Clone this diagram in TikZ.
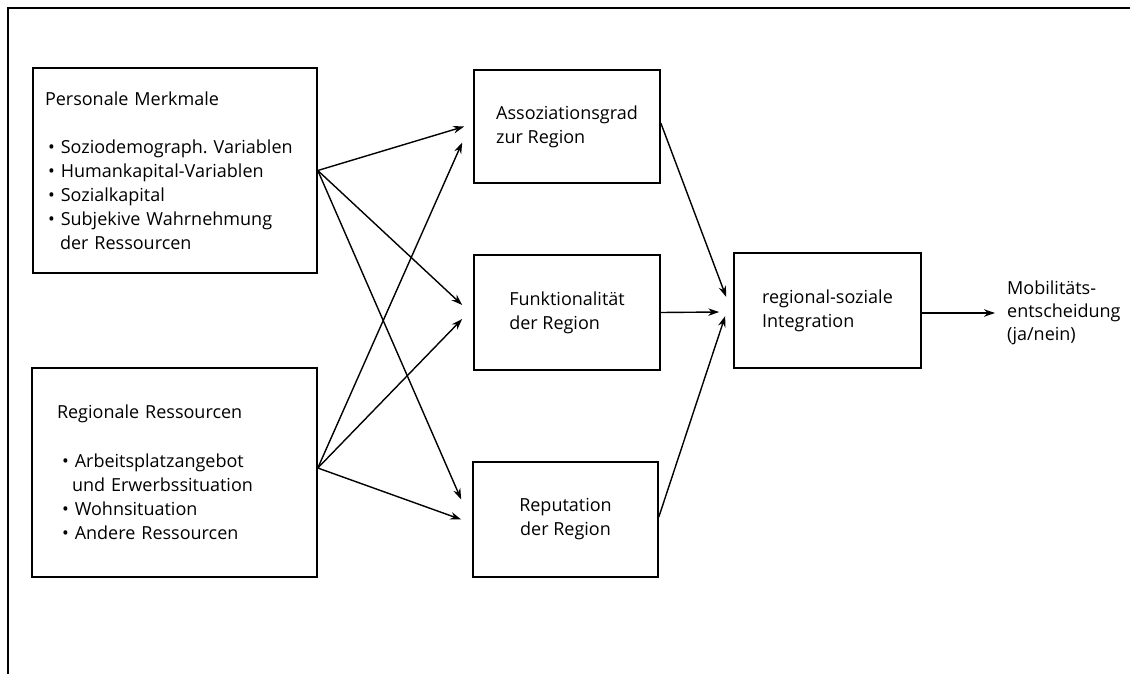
\documentclass[tikz,border=0pt]{standalone}
\usepackage{fontspec}
\setmainfont{Open Sans}
\usetikzlibrary{arrows.meta}
\begin{document}
\frenchspacing
\begin{tikzpicture}[x=1pt,y=-1pt,
  box/.style={draw, line width=1.6pt, inner sep=0pt, font=\fontsize{18}{24}\selectfont},
  conn/.style={line width=1.4pt, -{Stealth[length=11pt,width=7.5pt]}},
  frameline/.style={line width=1.6pt}]
\useasboundingbox (0,0) rectangle (1130,674);
\coordinate (ftop) at (8,8);
\coordinate (fright) at (1130,8);
\coordinate (fbot) at (8,674);
\draw[frameline] (fright) -- (ftop) -- (fbot);

\node[box, minimum width=284pt, minimum height=205pt, text width=260pt, align=left] (pm) at (175,170.5)
  {Personale Merkmale\\[24pt]
   \hspace*{3pt}\textbullet\ Soziodemograph. Variablen\\
   \hspace*{3pt}\textbullet\ Humankapital-Variablen\\
   \hspace*{3pt}\textbullet\ Sozialkapital\\
   \hspace*{3pt}\textbullet\ Subjekive Wahrnehmung\\
   \hspace*{15pt}der Ressourcen};

\node[box, minimum width=285pt, minimum height=209pt, text width=235pt, align=left] (rr) at (174.5,472.5)
  {Regionale Ressourcen\\[25pt]
   \hspace*{5pt}\textbullet\ Arbeitsplatzangebot\\
   \hspace*{15pt}und Erwerbssituation\\
   \hspace*{5pt}\textbullet\ Wohnsituation\\
   \hspace*{5pt}\textbullet\ Andere Ressourcen};

\node[box, minimum width=186pt, minimum height=113pt, align=left] (as) at (567,126.5)
  {Assoziationsgrad\\zur Region};
\node[box, minimum width=186pt, minimum height=115pt, align=left] (fu) at (567,312.5)
  {Funktionalität\\der Region};
\node[box, minimum width=185pt, minimum height=115pt, align=center] (re) at (565.5,519.5)
  {Reputation\\der Region};
\node[box, minimum width=187pt, minimum height=115pt, align=left] (in) at (827.5,310.5)
  {regional-soziale\\Integration};
\node[font=\fontsize{18}{23}\selectfont, align=left, anchor=west, inner sep=0pt] (mo) at (1007,313)
  {Mobilitäts-\\entscheidung\\(ja/nein)};

% from Personale Merkmale
\draw[conn] (pm.east) -- ([xshift=-9pt]as.west);
\draw[conn] (pm.east) -- ([xshift=-11pt,yshift=7.5pt]fu.west);
\draw[conn] (pm.east) -- ([xshift=-11pt,yshift=20pt]re.west);
% from Regionale Ressourcen
\draw[conn] ([yshift=4.5pt]rr.east) -- ([xshift=-11pt,yshift=-16pt]as.west);
\draw[conn] ([yshift=4.5pt]rr.east) -- ([xshift=-11pt,yshift=-6.5pt]fu.west);
\draw[conn] ([yshift=4.5pt]rr.east) -- ([xshift=-11pt]re.west);
% to integration
\draw[conn] ([yshift=3.5pt]as.east) -- ([xshift=-7pt,yshift=13.5pt]in.west);
\draw[conn] (fu.east) -- ([xshift=-14pt,yshift=-1.5pt]in.west);
\draw[conn] ([yshift=2.5pt]re.east) -- ([xshift=-8pt,yshift=-5.5pt]in.west);
% to decision
\draw[conn] ([yshift=-2.5pt]in.east) -- ([xshift=-12pt]mo.west);
\end{tikzpicture}
\end{document}
